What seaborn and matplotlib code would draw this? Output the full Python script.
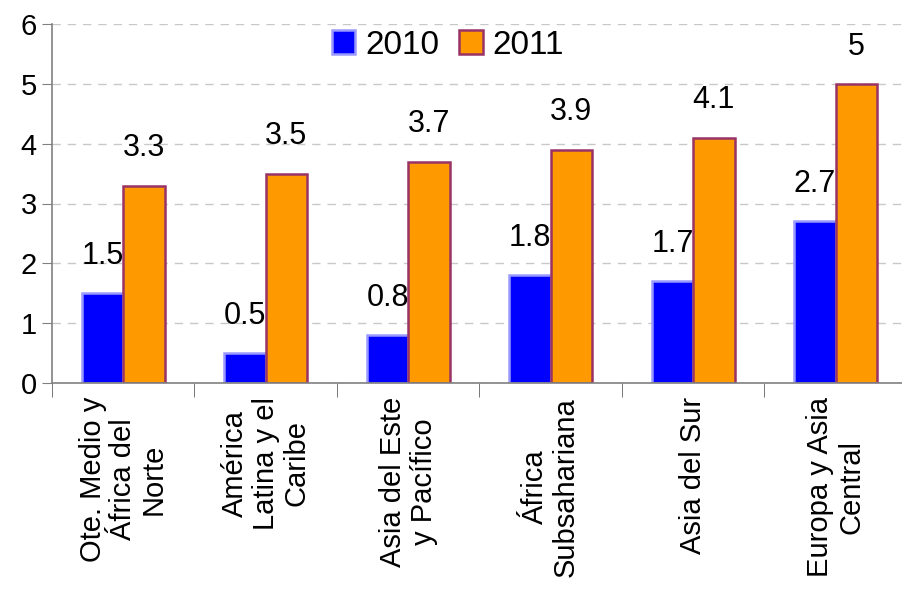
import matplotlib
matplotlib.use("Agg")
import matplotlib.pyplot as plt
import seaborn as sns
import pandas as pd

regions = ["Ote. Medio y\nÁfrica del\nNorte", "América\nLatina y el\nCaribe",
           "Asia del Este\ny Pacífico", "África\nSubsahariana",
           "Asia del Sur", "Europa y Asia\nCentral"]
years = ["2010", "2011"]
v2010 = [1.5, 0.5, 0.8, 1.8, 1.7, 2.7]
v2011 = [3.3, 3.5, 3.7, 3.9, 4.1, 5]

df = pd.DataFrame({
    "region": regions * 2,
    "year": [years[0]] * len(regions) + [years[1]] * len(regions),
    "value": v2010 + v2011,
})

sns.set_style("white")
plt.rcParams["font.family"] = ["Liberation Sans", "DejaVu Sans"]
plt.rcParams["text.color"] = "black"
plt.rcParams["xtick.color"] = "black"
plt.rcParams["ytick.color"] = "black"

fig = plt.figure(figsize=(9.03, 6.13), dpi=100)
ax = fig.add_axes([52 / 903, 230 / 613, 855 / 903, 359 / 613])

colors = {"2010": "#0000ff", "2011": "#ff9900"}
edges = {"2010": "#9999ff", "2011": "#993366"}
sns.barplot(data=df, x="region", y="value", hue="year", palette=colors,
            width=0.58, gap=0, ax=ax, legend=True, saturation=1)

for cont, yr in zip(ax.containers, years):
    for bar in cont:
        bar.set_edgecolor(edges[yr])
        bar.set_linewidth(1.8)
    ax.bar_label(cont, labels=[f"{v:g}" for v in cont.datavalues],
                 padding=16, fontsize=22)

ax.set_ylim(0, 6)
ax.set_xlim(-0.5, 5.5)
ax.set_yticks(range(7))
ax.yaxis.grid(True, linestyle=(0, (6, 5)), color="#c8c8c8", linewidth=1)
ax.set_axisbelow(True)
ax.set_xlabel("")
ax.set_ylabel("")

for s in ["top", "right"]:
    ax.spines[s].set_visible(False)
for s in ["left", "bottom"]:
    ax.spines[s].set_color("#808080")
    ax.spines[s].set_linewidth(1.2)

ax.tick_params(axis="y", labelsize=21, length=7, color="#808080",
               direction="out", left=True, pad=4)
ax.set_xticks(range(6))
ax.set_xticklabels(regions, rotation=90, fontsize=21, ha="center",
                   va="top", multialignment="center", linespacing=1.12)
ax.tick_params(axis="x", length=0, pad=10)
ax.set_xticks([i + 0.5 for i in range(-1, 6)], minor=True)
ax.tick_params(axis="x", which="minor", length=10, color="#606060",
               direction="out", bottom=True)

handles, labels = ax.get_legend_handles_labels()
for h, yr in zip(handles, years):
    h.set_edgecolor(edges[yr])
    h.set_linewidth(1.8)
ax.legend(handles, labels, loc="center",
          bbox_to_anchor=(448 / 903, 1 - 45 / 613),
          bbox_transform=fig.transFigure, ncol=2, frameon=False, fontsize=24,
          handlelength=0.7, handleheight=0.7, handletextpad=0.3,
          columnspacing=0.6)

fig.savefig("out.png", dpi=100)
